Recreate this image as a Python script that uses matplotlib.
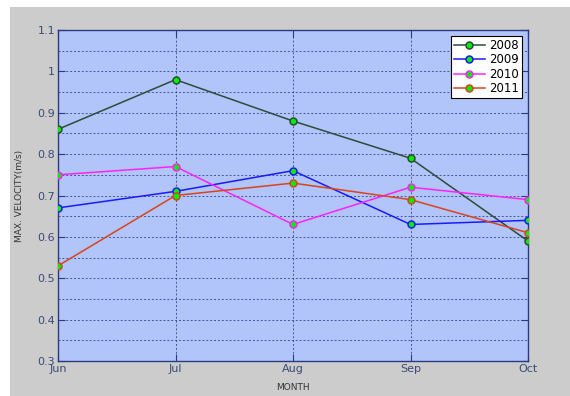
import matplotlib
matplotlib.use('Agg')
import matplotlib.pyplot as plt
from matplotlib.ticker import MultipleLocator
from matplotlib.patches import Rectangle

months = ['Jun', 'Jul', 'Aug', 'Sep', 'Oct']
years = ['2008', '2009', '2010', '2011']
v2008 = [0.86, 0.98, 0.88, 0.79, 0.59]
v2009 = [0.67, 0.71, 0.76, 0.63, 0.64]
v2010 = [0.75, 0.77, 0.63, 0.72, 0.69]
v2011 = [0.53, 0.70, 0.73, 0.69, 0.61]
yticks = [0.3, 0.4, 0.5, 0.6, 0.7, 0.8, 0.9, 1.0, 1.1]
ylabels = ['0.3', '0.4', '0.5', '0.6', '0.7', '0.8', '0.9', '1', '1.1']
colors = ['#2f4a3a', '#1a1aff', '#ff22ff', '#d9441c']

navy = '#2b3a80'
fig = plt.figure(figsize=(5.70, 3.96), dpi=100, facecolor='white')
# gray panel like the matlab window
fig.patches.append(Rectangle((10 / 570, 0), 1, 1 - 7 / 396, transform=fig.transFigure,
                             facecolor='#cccccc', edgecolor='none', zorder=-10))
ax = fig.add_axes([58 / 570, 1 - 361 / 396, 470 / 570, 331 / 396])
ax.set_facecolor('#b1c5fb')

x = list(range(len(months)))
for yr, vals, c in zip(years, [v2008, v2009, v2010, v2011], colors):
    ax.plot(x, vals, color=c, lw=1.1, marker='o', ms=5, mfc='#00ee00',
            mec=c, mew=1.1, label=yr, zorder=3)

ax.set_xlim(0, 4)
ax.set_ylim(0.3, 1.1)
ax.set_xticks(x)
ax.set_xticklabels(months)
ax.set_yticks(yticks)
ax.set_yticklabels(ylabels)
ax.yaxis.set_minor_locator(MultipleLocator(0.05))
ax.grid(True, which='both', axis='y', linestyle=(0, (2, 2)), color=navy, lw=0.7, alpha=0.8)
ax.grid(True, which='major', axis='x', linestyle=(0, (2, 2)), color=navy, lw=0.7, alpha=0.8)
ax.tick_params(which='major', direction='in', length=5, top=True, right=True,
               colors=navy, labelsize=8, labelcolor='#3a4a78', pad=2)
ax.tick_params(axis='x', pad=2)
ax.tick_params(which='minor', length=0)
for s in ax.spines.values():
    s.set_color(navy)
    s.set_linewidth(1)

ax.set_xlabel('MONTH', fontsize=6.5, color='#333333', labelpad=7)
ax.set_ylabel('MAX. VELOCITY(m/s)', fontsize=6.5, color='#333333', labelpad=10)

leg = ax.legend(loc='upper right', fontsize=8.5, fancybox=False, framealpha=1,
                edgecolor='black', borderpad=0.25, labelspacing=0.12,
                handlelength=2.6, handletextpad=0.4, borderaxespad=0.5)
leg.get_frame().set_linewidth(0.8)

fig.savefig('out.png', dpi=100, facecolor=fig.get_facecolor())
